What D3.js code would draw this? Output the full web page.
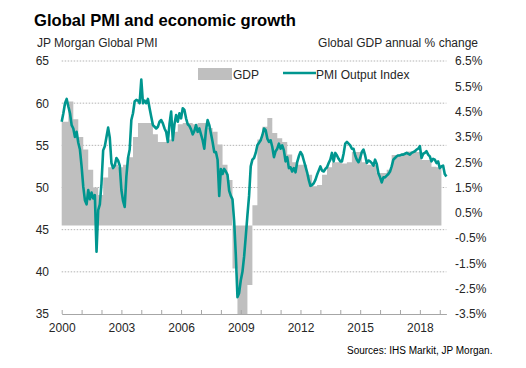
<!DOCTYPE html>
<html>
<head>
<meta charset="utf-8">
<script src="https://cdn.jsdelivr.net/npm/d3@7"></script>
<style>
  body { margin: 0; background: #fff; }
  svg { font-family: Arial, "Liberation Sans", sans-serif; }
</style>
</head>
<body>
<div class="svg-content"></div>
<script>

  // JP Morgan global PMI output index, monthly from Jan 2000
  var pmiStart = 2000;
  var pmi = [
    57.8, 58.8, 60.0, 60.5, 59.6, 58.8, 57.4, 57.0, 56.0, 56.6, 55.3, 54.5,
    52.5, 50.1, 48.5, 48.0, 49.7, 48.6, 49.4, 48.7, 49.1, 42.4, 47.3, 48.0,
    50.5, 54.4, 54.9, 56.0, 57.1, 55.9, 52.9, 52.3, 52.6, 53.5, 53.2, 52.6,
    49.7, 48.4, 47.7, 51.3, 53.5, 54.5, 58.0, 58.8, 60.2, 60.4, 60.3, 60.0,
    62.8, 60.0, 60.3, 60.0, 60.5, 59.4, 58.4, 57.4, 57.2, 57.0, 57.2, 57.8,
    58.0, 57.6, 57.0, 56.6, 55.4, 57.5, 59.0, 55.6, 57.5, 58.6, 57.8, 58.8,
    58.2, 59.4, 59.2, 58.2, 57.5, 57.3, 56.9, 56.3, 56.7, 57.4, 56.6, 57.0,
    56.3, 55.6, 54.6, 56.8, 58.0, 57.4, 56.4, 55.4, 54.2, 54.2, 53.3, 49.0,
    52.2, 51.6, 52.2, 51.9, 51.5, 49.6, 49.0, 48.6, 46.0, 42.0, 37.0, 37.5,
    39.0, 40.0, 41.8, 44.2, 46.7, 49.0, 52.5, 53.3, 53.5, 54.1, 55.0, 55.3,
    55.6, 56.2, 57.0, 56.8, 55.8, 55.4, 55.6, 54.8, 53.6, 54.3, 54.6, 55.2,
    54.6, 55.0, 54.4, 53.1, 53.6, 52.3, 52.4, 51.9, 52.3, 51.8, 53.0, 53.7,
    54.2, 53.9, 53.2, 52.5, 51.8, 50.9, 50.2, 50.3, 50.5, 50.9, 51.5, 52.0,
    52.5, 52.0, 51.9, 52.2, 52.4, 52.9, 53.3, 54.1, 53.1, 54.1, 53.8, 53.4,
    53.1, 53.1, 54.0, 55.2, 55.4, 55.2, 55.0, 54.6, 54.6, 53.8, 53.3, 53.0,
    53.5, 54.2, 54.5, 53.8, 52.9, 53.2, 53.1, 52.9, 52.6, 53.3, 52.8, 51.7,
    51.2, 50.6, 51.2, 51.2, 51.4, 51.6, 51.9, 52.5, 53.3, 53.5, 53.7, 53.8,
    53.8, 53.9, 53.9, 54.0, 54.1, 54.0, 53.9, 54.1, 54.2, 54.3, 54.5, 54.6,
    54.9, 53.5, 54.0, 54.1, 54.3, 53.9, 53.7, 53.1, 53.4, 53.3, 52.9, 53.1,
    52.3, 52.5, 52.6, 51.6, 51.3
  ];

  // global GDP annual % change, quarterly from Q4 1999
  var gdpStart = 1999.75;
  var gdp = [
    4.1,
    4.1, 4.9, 4.2, 3.5,
    3.0, 2.2, 1.5, 1.2,
    1.9, 2.3, 2.4, 2.3,
    2.4, 2.7, 3.5, 4.05,
    4.05, 4.05, 3.6, 3.3,
    3.3, 3.4, 3.7, 4.0,
    4.05, 4.05, 4.0, 4.05,
    4.05, 3.85, 3.7, 3.2,
    2.4, 1.8, -1.7, -3.6,
    -3.6, -2.35, 0.8, 3.4,
    3.9, 4.25, 3.65, 3.45,
    3.3, 2.8, 2.5, 2.4,
    2.4, 2.0, 1.55, 1.6,
    2.0, 2.3, 2.5, 2.5,
    2.45, 2.5, 2.9, 2.9,
    2.5, 2.4, 2.4, 2.07,
    2.07, 2.2, 2.78, 2.8,
    2.85, 2.92, 2.92, 2.9,
    2.59, 2.59, 2.32, 2.3
  ];

  var yearTicks = d3.range(2000, 2020);
  var yearLabels = [2000, 2003, 2006, 2009, 2012, 2015, 2018];
  var pmiTicks = [35, 40, 45, 50, 55, 60, 65];
  var gdpTicks = [-3.5, -2.5, -1.5, -0.5, 0.5, 1.5, 2.5, 3.5, 4.5, 5.5, 6.5];

  var width = 526;
  var height = 368;
  var teal = "#00968f";
  var grey = "#bfbfbf";

  var svg = d3.select(".svg-content")
    .append("svg")
    .attr("width", width)
    .attr("height", height);

  var x = d3.scaleLinear().domain([2000, 2019 + 4 / 12]).range([61.7, 446.4]);
  var yL = d3.scaleLinear().domain([35, 65]).range([314, 61]);
  var yR = d3.scaleLinear().domain([-3.5, 6.5]).range([314, 61]);

  // titles
  svg.append("text")
    .attr("x", 34).attr("y", 26)
    .attr("font-size", "16.6px").attr("font-weight", "bold")
    .attr("fill", "#000")
    .text("Global PMI and economic growth");

  svg.append("text")
    .attr("x", 37).attr("y", 47)
    .attr("font-size", "12px").attr("fill", "#262626")
    .text("JP Morgan Global PMI");

  svg.append("text")
    .attr("x", 478).attr("y", 47)
    .attr("text-anchor", "end")
    .attr("font-size", "12px").attr("fill", "#262626")
    .text("Global GDP annual % change");

  // gridlines
  svg.append("g")
    .selectAll("line")
    .data(pmiTicks.filter(function(d) { return d > 35; }))
    .enter().append("line")
    .attr("x1", x.range()[0]).attr("x2", x.range()[1])
    .attr("y1", function(d) { return yL(d); })
    .attr("y2", function(d) { return yL(d); })
    .attr("stroke", "#b3b3b3")
    .attr("stroke-width", 1)
    .attr("stroke-dasharray", "1.5,1.5");

  // gdp columns drawn as one stepped area, each step a quarter wide
  var steps = [];
  gdp.forEach(function(v, i) {
    var c = gdpStart + i * 0.25 + 2.5 / 12;
    var v2 = Math.max(v, -3.5);
    steps.push({ t: Math.max(c - 1.5 / 12, 2000), v: v2 });
    steps.push({ t: c + 1.5 / 12, v: v2 });
  });

  var area = d3.area()
    .x(function(d) { return x(d.t); })
    .y0(yR(0))
    .y1(function(d) { return yR(d.v); });

  svg.append("path")
    .datum(steps)
    .attr("d", area)
    .attr("fill", grey);

  // x axis
  var xAxis = d3.axisBottom(x)
    .tickValues(yearTicks)
    .tickSizeInner(-4)
    .tickSizeOuter(0)
    .tickPadding(9)
    .tickFormat(function(d) { return yearLabels.indexOf(d) >= 0 ? d : ""; });

  var gx = svg.append("g")
    .attr("transform", "translate(0," + 314 + ")")
    .call(xAxis);
  gx.select(".domain").attr("stroke", "#a6a6a6");
  gx.selectAll(".tick line").attr("stroke", "#a6a6a6");
  gx.selectAll("text").attr("font-size", "12px").attr("fill", "#262626")
    .attr("font-family", "Arial, 'Liberation Sans', sans-serif");

  // left axis
  var gl = svg.append("g")
    .attr("transform", "translate(49,0)")
    .call(d3.axisLeft(yL).tickValues(pmiTicks).tickSize(0).tickPadding(0));
  gl.select(".domain").remove();
  gl.selectAll("text").attr("font-size", "12px").attr("fill", "#262626")
    .attr("font-family", "Arial, 'Liberation Sans', sans-serif");

  // right axis
  var gr = svg.append("g")
    .attr("transform", "translate(455,0)")
    .call(d3.axisRight(yR).tickValues(gdpTicks).tickSize(0).tickPadding(0)
      .tickFormat(function(d) { return d.toFixed(1) + "%"; }));
  gr.select(".domain").remove();
  gr.selectAll("text").attr("font-size", "12px").attr("fill", "#262626")
    .attr("font-family", "Arial, 'Liberation Sans', sans-serif");

  // pmi line
  var line = d3.line()
    .x(function(d, i) { return x(pmiStart + i / 12); })
    .y(function(d) { return yL(d); });

  svg.append("path")
    .datum(pmi)
    .attr("d", line)
    .attr("fill", "none")
    .attr("stroke", teal)
    .attr("stroke-width", 2.6)
    .attr("stroke-linejoin", "round");

  // legend
  var legend = svg.append("g").attr("font-size", "12px").attr("fill", "#262626");
  legend.append("rect")
    .attr("x", 198).attr("y", 68).attr("width", 34).attr("height", 12)
    .attr("fill", grey);
  legend.append("text").attr("x", 233).attr("y", 78.5).text("GDP");
  legend.append("line")
    .attr("x1", 283).attr("x2", 316).attr("y1", 73).attr("y2", 73)
    .attr("stroke", teal).attr("stroke-width", 2.6);
  legend.append("text").attr("x", 316).attr("y", 78.5).text("PMI Output Index");

  // source note
  svg.append("text")
    .attr("x", 347).attr("y", 354)
    .attr("font-size", "10px").attr("fill", "#000")
    .text("Sources: IHS Markit, JP Morgan.");

</script>
</body>
</html>
